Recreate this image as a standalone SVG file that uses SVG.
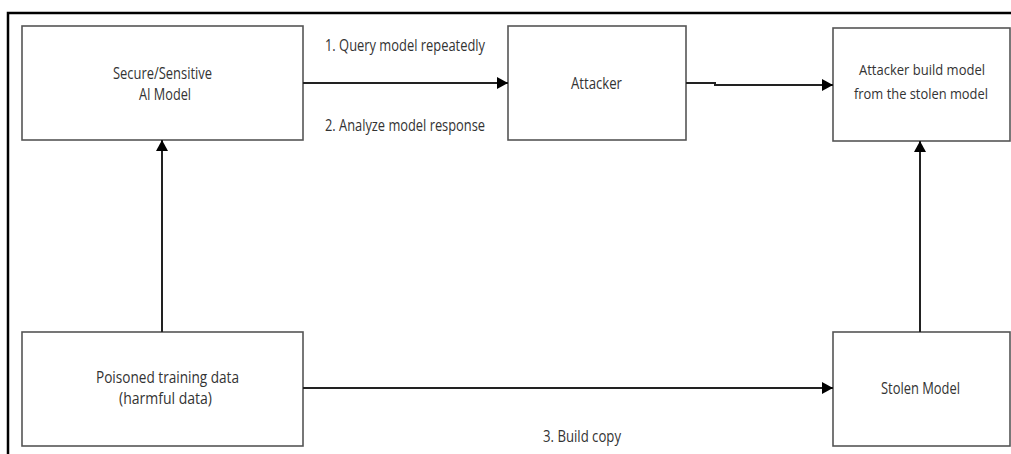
<svg xmlns="http://www.w3.org/2000/svg" width="1011" height="454" viewBox="0 0 1011 454">
<style>
.box{fill:#fff;stroke:#555;stroke-width:1.6}
.t{font-family:"Open Sans","Liberation Sans",sans-serif;font-size:16px;fill:#333;text-anchor:middle}
.s{font-size:14.5px}
.lbl{font-family:"Open Sans","Liberation Sans",sans-serif;font-size:16px;fill:#333}
.c{fill:none;stroke:#222;stroke-width:2}
.frame{fill:none;stroke:#000;stroke-width:2.5}
</style>
<defs>
<marker id="ah" markerUnits="userSpaceOnUse" markerWidth="11" markerHeight="12" refX="11" refY="6" orient="auto">
<path d="M0,0 L11,6 L0,12 z" fill="#000"/>
</marker>
</defs>
<rect width="1011" height="454" fill="#fff"/>
<path class="frame" d="M8,454 V13 H1011"/>
<g id="secure-model">
<rect class="box" x="22" y="26" width="281" height="114"/>
<text class="t" x="162.5" y="79" textLength="99" lengthAdjust="spacingAndGlyphs">Secure/Sensitive</text>
<text class="t" x="165" y="100" textLength="52" lengthAdjust="spacingAndGlyphs">AI Model</text>
</g>
<g id="attacker">
<rect class="box" x="508" y="26" width="178" height="114"/>
<text class="t" x="596.5" y="89" textLength="51" lengthAdjust="spacingAndGlyphs">Attacker</text>
</g>
<g id="attacker-build">
<rect class="box" x="833" y="28" width="177" height="113"/>
<text class="t s" x="922" y="75" textLength="126" lengthAdjust="spacingAndGlyphs">Attacker build model</text>
<text class="t s" x="921" y="99" textLength="134" lengthAdjust="spacingAndGlyphs">from the stolen model</text>
</g>
<g id="poisoned-data">
<rect class="box" x="22" y="332" width="281" height="114"/>
<text class="t" x="167.5" y="383" textLength="143" lengthAdjust="spacingAndGlyphs">Poisoned training data</text>
<text class="t" x="165.5" y="404" textLength="93" lengthAdjust="spacingAndGlyphs">(harmful data)</text>
</g>
<g id="stolen-model">
<rect class="box" x="833" y="332" width="177" height="114"/>
<text class="t" x="920.5" y="394" textLength="79" lengthAdjust="spacingAndGlyphs">Stolen Model</text>
</g>
<g id="connectors">
<line class="c" x1="303" y1="83" x2="508" y2="83" marker-end="url(#ah)"/>
<path class="c" d="M686,83 H715 V85 H833" marker-end="url(#ah)"/>
<line class="c" x1="162" y1="332" x2="162" y2="140" marker-end="url(#ah)"/>
<line class="c" x1="920" y1="332" x2="920" y2="141" marker-end="url(#ah)"/>
<line class="c" x1="303" y1="388" x2="833" y2="388" marker-end="url(#ah)"/>
<text class="lbl" x="325" y="51" textLength="160" lengthAdjust="spacingAndGlyphs">1. Query model repeatedly</text>
<text class="lbl" x="325" y="131" textLength="160" lengthAdjust="spacingAndGlyphs">2. Analyze model response</text>
<text class="lbl" x="543" y="442" textLength="78" lengthAdjust="spacingAndGlyphs">3. Build copy</text>
</g>
</svg>
